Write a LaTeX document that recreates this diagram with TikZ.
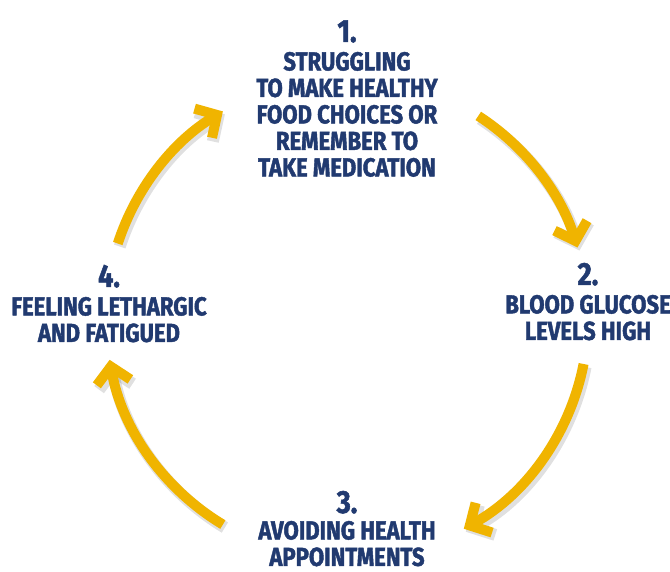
\documentclass[tikz,border=0pt]{standalone}
\usepackage{fontspec}
\usepackage{tikz}
\usetikzlibrary{arrows.meta,positioning}
\newfontfamily\etapefont{Fira Sans}[FakeStretch=0.85, BoldFeatures={FakeBold=1.6}]
\definecolor{bleuN}{HTML}{213A70}
\definecolor{orC}{HTML}{F0B400}
\tikzset{
  etape/.style={align=center, text=bleuN, inner sep=0pt,
                font=\etapefont\bfseries\fontsize{26}{26.5}\selectfont},
  numero/.style={text=bleuN, inner sep=0pt,
                 font=\etapefont\bfseries\fontsize{32}{32}\selectfont},
  fleche/.style={draw=orC, line width=10pt, -{Straight Barb[length=16pt, width=34pt]},
                 preaction={draw=black, opacity=0.12, line width=12pt,
                            transform canvas={shift={(2pt,-3pt)}}}},
}

\begin{document}
\begin{tikzpicture}[x=1pt, y=1pt, node distance=9pt]
  \useasboundingbox[fill=white] (0,0) rectangle (670,572);
  \coordinate (c) at (347,254);
  % les quatre etapes
  \node[numero, anchor=base] (n1) at (347,530) {1.};
  \node[etape, below=of n1] (e1) {STRUGGLING\\TO MAKE HEALTHY\\FOOD CHOICES OR\\REMEMBER TO\\TAKE MEDICATION};
  \node[numero, anchor=base] (n2) at (588,287) {2.};
  \node[etape, below=of n2] (e2) {BLOOD GLUCOSE\\LEVELS HIGH};
  \node[numero, anchor=base] (n3) at (347,59) {3.};
  \node[etape, below=7pt of n3] (e3) {AVOIDING HEALTH\\APPOINTMENTS};
  \node[numero, anchor=base] (n4) at (109,285) {4.};
  \node[etape, below=of n4] (e4) {FEELING LETHARGIC\\AND FATIGUED};
  % le cycle
  \coordinate (a1) at ([shift={(57:241)}]c);
  \coordinate (a2) at ([shift={(-11:241)}]c);
  \coordinate (a3) at ([shift={(239:241)}]c);
  \coordinate (a4) at ([shift={(162:241)}]c);
  \draw[fleche] (a1) arc[start angle=57, end angle=17, radius=241];
  \draw[fleche] (a2) arc[start angle=-11, end angle=-61, radius=241];
  \draw[fleche] (a3) arc[start angle=239, end angle=190, radius=241];
  \draw[fleche] (a4) arc[start angle=162, end angle=121, radius=241];
\end{tikzpicture}
\end{document}
